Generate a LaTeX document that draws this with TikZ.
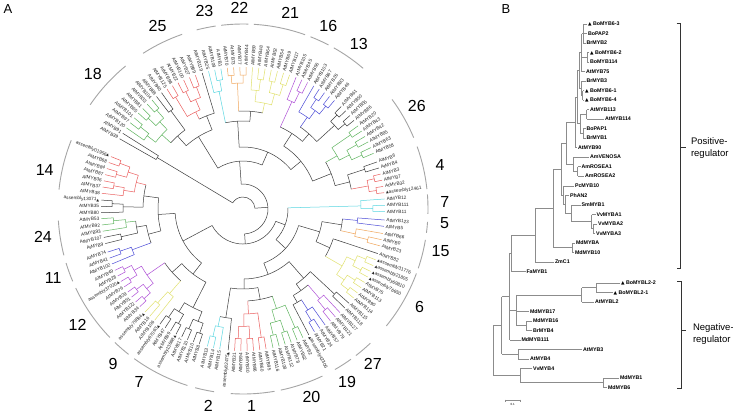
\documentclass[tikz,border=0pt]{standalone}
\usepackage{fontspec}
\setmainfont{Liberation Sans}
\newfontfamily\djv{DejaVu Sans}
\usetikzlibrary{calc}
\definecolor{cR}{RGB}{235,95,95}
\definecolor{cG}{RGB}{95,180,95}
\definecolor{cC}{RGB}{90,215,225}
\definecolor{cO}{RGB}{240,165,90}
\definecolor{cY}{RGB}{225,225,110}
\definecolor{cP}{RGB}{175,80,215}
\definecolor{cB}{RGB}{75,75,215}
\definecolor{cK}{RGB}{60,60,60}
\definecolor{arcg}{RGB}{165,165,165}
\definecolor{brl}{RGB}{140,140,140}
\newcommand\tri{{\djv\fontsize{3.6}{4}\selectfont ▲}}
\newcommand\btri{{\djv\fontsize{4.6}{5}\selectfont ▲}}
\def\lsp{2.55}
\def\rtp{142}
\tikzset{
  tl/.style={line width=0.5pt},
  lbl/.style={font=\fontsize{4.7}{5}\selectfont, text=black!85, inner sep=0.3pt},
  grpnum/.style={font=\fontsize{16}{16}\selectfont, text=black, inner sep=0.5pt},
  bl/.style={brl, line width=0.55pt},
  blbl/.style={font=\fontsize{5.3}{5.5}\selectfont\bfseries, inner sep=0.8pt, anchor=west},
  brk/.style={black!80, line width=0.7pt},
  side/.style={font=\fontsize{9.5}{11.5}\selectfont, align=left, anchor=west}
}
% balanced clade: #1 start angle, #2 n, #3 colour, #4 root radius
\newcommand\clade[4]{%
  \pgfmathtruncatemacro\cn{#2}%
  \ifnum\cn>1
    \pgfmathtruncatemacro\cD{ceil(ln(\cn)/ln(2)-0.0001)}%
    \pgfmathsetmacro\cdr{(\rtp-#4)/\cD}%
    \foreach \lv in {1,...,\cD}{%
      \pgfmathtruncatemacro\cBs{2^\lv}%
      \pgfmathtruncatemacro\cHb{2^(\lv-1)}%
      \pgfmathtruncatemacro\cM{ceil(\cn/\cBs)-1}%
      \pgfmathsetmacro\cRin{\rtp-\lv*\cdr}%
      \pgfmathsetmacro\cRout{\rtp-(\lv-1)*\cdr}%
      \foreach \jv in {0,...,\cM}{%
        \pgfmathtruncatemacro\cLa{\jv*\cBs}%
        \pgfmathtruncatemacro\cLb{min(\jv*\cBs+\cHb,\cn)-1}%
        \pgfmathtruncatemacro\cRa{\jv*\cBs+\cHb}%
        \pgfmathtruncatemacro\cRb{min(\jv*\cBs+\cBs,\cn)-1}%
        \pgfmathsetmacro\cAL{#1+(\cLa+\cLb)/2*\lsp}%
        \ifnum\cRa<\cn
          \pgfmathsetmacro\cAR{#1+(\cRa+\cRb)/2*\lsp}%
          \draw[#3,tl] (\cAL:\cRout pt) -- (\cAL:\cRin pt) arc[start angle=\cAL, end angle=\cAR, radius=\cRin pt] -- (\cAR:\cRout pt);
        \else
          \draw[#3,tl] (\cAL:\cRout pt) -- (\cAL:\cRin pt);
        \fi
      }%
    }%
  \fi
}
% segment of leaves: #1 start, #2 n, #3 colour, #4 root radius, #5 list name/triangle
\newcommand\seg[5]{%
  \clade{#1}{#2}{#3}{#4}%
  \foreach \lnm/\ltr [count=\kv from 0] in {#5}{%
    \pgfmathsetmacro\sgA{#1+\kv*\lsp}%
    \pgfmathtruncatemacro\lft{and(mod(\sgA,360)>90,mod(\sgA,360)<270)}%
    \ifnum\lft=1
      \pgfmathsetmacro\sgR{\sgA+180}%
      \node[lbl,anchor=east,rotate=\sgR] at (\sgA:143.5pt) {\lnm\ifnum\ltr=1 \tri\fi};
    \else
      \node[lbl,anchor=west,rotate=\sgA] at (\sgA:143.5pt) {\ifnum\ltr=1 \tri\fi\lnm};
    \fi
  }%
}
% backbone join: a1 r1 c1 a2 r2 c2 R
\newcommand\bjoin[7]{%
  \draw[#3,tl] (#1:#2pt) -- (#1:#7pt);
  \draw[#6,tl] (#4:#5pt) -- (#4:#7pt);
  \draw[cK,tl] (#1:#7pt) arc[start angle=#1, end angle=#4, radius=#7pt];
}
% group arc: a1 a2 text label-angle label-radius
\newcommand\garc[5]{%
  \draw[arcg, line width=0.9pt] (#1:185pt) arc[start angle=#1, end angle=#2, radius=185pt];
  \node[grpnum] at (#4:#5pt) {#3};
}
% panel B
\newcommand\bleaf[4]{%
  \coordinate (#1) at (#2,-#3);
  \node[blbl] (t#1) at (#1) {#4};
}
\newcommand\bnode[5]{%
  \path let \p1=($(#3)!0.5!(#4)$) in coordinate (#1) at (#2pt,\y1);
  \draw[bl] (#3 -| #1) -- (#4 -| #1);
  \foreach \cc in {#5} \draw[bl] (\cc) -- (\cc -| #1);
}
\begin{document}
\begin{tikzpicture}[x=1pt,y=1pt]
\useasboundingbox (0,0) rectangle (733,-418);
\fill[white] (0,0) rectangle (733,-418);
\node[font=\fontsize{13}{13}\selectfont] (panA) at (8,-9) {A};
\node[font=\fontsize{13}{13}\selectfont] (panB) at (506,-9) {B};

\begin{scope}[shift={(243,-209)}]
\seg{158.35}{7}{cR}{110}{assembly01956/1,AtMYB68/0,AtMYB84/0,AtMYB87/0,AtMYB36/0,AtMYB37/0,AtMYB38/0}
\seg{176.4}{3}{cK}{120}{assembly13071/1,AtMYB35/0,AtMYB80/0}
\seg{183.9}{3}{cG}{118}{AtMYB53/0,AtMYB92/0,AtMYB93/0}
\seg{191.55}{2}{cK}{125}{AtMYB107/0,AtMYB9/0}
\seg{197.65}{3}{cB}{118}{AtMYB74/0,AtMYB41/0,AtMYB102/0}
\seg{205.58}{8}{cP}{108}{AtMYB49/0,AtMYB28/0,assembly37020/1,AtMYB76/0,AtMYB29/0,AtMYB51/0,AtMYB122/0,AtMYB34/0}
\seg{226.45}{3}{cY}{112}{assembly79864/1,AtMYB16/0,AtMYB106/0}
\seg{234.2}{8}{cK}{100}{assembly67063/1,AtMYB47/0,AtMYB99/0,assembly13668/1,AtMYB17/0,AtMYB110/0,AtMYB10/0,AtMYB8/0}
\seg{255.45}{3}{cC}{120}{AtMYB13/0,AtMYB14/0,AtMYB15/0}
\seg{264}{1}{cK}{142}{assembly82475/1}
\seg{266.6}{6}{cR}{105}{AtMYB31/0,AtMYB94/0,AtMYB30/0,AtMYB96/0,AtMYB60/0,AtMYB95/0}
\seg{282.2}{6}{cG}{105}{AtMYB116/0,AtMYB108/0,AtMYB112/0,AtMYB78/0,AtMYB62/0,AtMYB2/0}
\seg{297.6}{1}{cK}{142}{assembly42306/1}
\seg{300.2}{3}{cB}{120}{AtMYB21/0,AtMYB24/0,AtMYB57/0}
\seg{308}{3}{cP}{118}{AtMYB79/0,AtMYB121/0,AtMYB127/0}
\seg{315.8}{2}{cK}{125}{AtMYB118/0,AtMYB115/0}
\seg{321.2}{8}{cY}{105}{AtMYB114/0,AtMYB90/0,AtMYB113/0,AtMYB75/0,assembly76650/1,assembly69810/1,assembly21805/1,assembly31776/1}
\seg{341.7}{1}{cK}{142}{AtMYB82/0}
\seg{344.95}{3}{cO}{115}{AtMYB23/0,AtMYB0/0,AtMYB66/0}
\seg{353}{2}{cB}{115}{AtMYB5/0,AtMYB123/0}
\seg{358.95}{3}{cC}{118}{AtMYB11/0,AtMYB111/0,AtMYB12/0}
\seg{366.6}{4}{cR}{120}{assembly12461/1,AtMYB32/0,AtMYB7/0,AtMYB3/0}
\seg{376.8}{2}{cK}{128}{AtMYB4/0,AtMYB6/0}
\seg{383.1}{6}{cG}{108}{AtMYB58/0,AtMYB63/0,AtMYB85/0,AtMYB42/0,AtMYB43/0,AtMYB20/0}
\seg{398.6}{4}{cK}{115}{AtMYB86/0,AtMYB55/0,AtMYB50/0,AtMYB61/0}
\seg{409.9}{5}{cB}{112}{AtMYB46/0,AtMYB83/0,AtMYB26/0,AtMYB67/0,AtMYB103/0}
\seg{422.95}{3}{cP}{118}{AtMYB56/0,AtMYB45/0,AtMYB105/0}
\seg{430.85}{7}{cY}{108}{AtMYB117/0,AtMYB69/0,AtMYB54/0,AtMYB52/0,AtMYB64/0,AtMYB48/0,AtMYB59/0}
\seg{448.7}{4}{cO}{118}{AtMYB44/0,AtMYB77/0,AtMYB73/0,AtMYB70/0}
\seg{458.95}{3}{cC}{120}{AtMYB1/0,AtMYB109/0,AtMYB25/0}
\seg{466.7}{1}{cK}{142}{AtMYB119/0}
\seg{469.6}{6}{cR}{108}{AtMYB89/0,AtMYB27/0,AtMYB100/0,AtMYB22/0,AtMYB98/0,AtMYB125/0}
\seg{485}{2}{cK}{122}{AtMYB40/0,AtMYB88/0}
\seg{489.85}{7}{cG}{110}{AtMYB104/0,AtMYB33/0,AtMYB81/0,AtMYB65/0,AtMYB101/0,AtMYB97/0,AtMYB120/0}
\seg{507.8}{1}{cK}{142}{AtMYB91/0}
\seg{510.35}{1}{cK}{142}{AtMYB39/0}
% backbone
\bjoin{166.0}{110}{cR}{178.95}{120}{cK}{100}
\bjoin{186.45}{118}{cG}{192.83}{125}{cK}{108}
\bjoin{189.64}{108}{cK}{200.2}{118}{cB}{98}
\bjoin{172.48}{100}{cK}{194.92}{98}{cK}{85}
\bjoin{214.5}{108}{cP}{229.0}{112}{cY}{95}
\bjoin{221.75}{95}{cK}{243.13}{100}{cK}{82}
\bjoin{183.7}{85}{cK}{232.44}{82}{cK}{68}
\bjoin{258.0}{120}{cC}{264.0}{142}{cK}{110}
\bjoin{272.98}{105}{cR}{288.58}{105}{cG}{92}
\bjoin{261.0}{110}{cK}{280.78}{92}{cK}{80}
\bjoin{297.6}{142}{cK}{302.75}{120}{cB}{108}
\bjoin{300.18}{108}{cK}{310.55}{118}{cP}{100}
\bjoin{305.37}{100}{cK}{317.08}{125}{cK}{92}
\bjoin{270.89}{80}{cK}{311.23}{92}{cK}{70}
\bjoin{330.13}{105}{cY}{341.7}{142}{cK}{95}
\bjoin{347.5}{115}{cO}{354.28}{115}{cB}{100}
\bjoin{335.92}{95}{cK}{350.89}{100}{cK}{80}
\bjoin{291.06}{70}{cK}{343.41}{80}{cK}{58}
\bjoin{317.24}{58}{cK}{361.5}{118}{cC}{45}
\bjoin{370.43}{120}{cR}{378.08}{128}{cK}{110}
\bjoin{374.26}{110}{cK}{389.48}{108}{cG}{95}
\bjoin{402.43}{115}{cK}{415.0}{112}{cB}{100}
\bjoin{408.72}{100}{cK}{425.5}{118}{cP}{90}
\bjoin{381.87}{95}{cK}{417.11}{90}{cK}{75}
\bjoin{438.5}{108}{cY}{452.53}{118}{cO}{98}
\bjoin{445.52}{98}{cK}{461.5}{120}{cC}{88}
\bjoin{399.49}{75}{cK}{453.51}{88}{cK}{62}
\bjoin{466.7}{142}{cK}{475.98}{108}{cR}{100}
\bjoin{486.28}{122}{cK}{497.5}{110}{cG}{98}
\bjoin{471.34}{100}{cK}{491.89}{98}{cK}{85}
\bjoin{426.5}{62}{cK}{481.62}{85}{cK}{48}
\bjoin{208.07}{68}{cK}{339.37}{45}{cK}{35}
\bjoin{273.72}{35}{cK}{454.06}{48}{cK}{25}
\bjoin{507.8}{142}{cK}{510.35}{142}{cK}{100}
\bjoin{363.89}{25}{cK}{509.08}{100}{cK}{12}
% group arcs
\garc{158.2}{174.0}{14}{169}{202}
\garc{183.6}{194.5}{24}{188}{202}
\garc{197.0}{203.0}{11}{200}{202}
\garc{205.3}{224.0}{12}{215}{202}
\garc{226.2}{231.8}{9}{230}{202}
\garc{234.0}{252.5}{7}{239}{202}
\garc{255.0}{261.0}{2}{260}{200}
\garc{266.2}{279.8}{1}{272.5}{197}
\garc{281.8}{295.4}{20}{290}{200}
\garc{299.8}{305.7}{19}{301}{202}
\garc{307.6}{313.5}{27}{310}{202}
\garc{320.8}{339.6}{6}{331}{202}
\garc{341.3}{350.4}{15}{348}{202}
\garc{352.6}{356.0}{5}{356}{202}
\garc{358.5}{364.5}{7}{362}{202}
\garc{366.2}{379.7}{4}{372.6}{202}
\garc{382.7}{396.3}{26}{390.6}{202}
\garc{409.5}{420.6}{13}{415}{202}
\garc{422.5}{428.6}{16}{425}{202}
\garc{430.4}{446.6}{21}{436.5}{202}
\garc{448.3}{456.8}{22}{451}{201}
\garc{458.5}{464.5}{23}{461}{202}
\garc{469.2}{482.7}{25}{475}{202}
\garc{489.4}{505.7}{18}{498}{202}
\end{scope}

% ---------------- panel B ----------------
\bleaf{L1}{587}{24}{\btri\ BoMYB6-3}
\bleaf{L2}{587}{33.5}{BoPAP2}
\bleaf{L3}{585.5}{43}{BrMYB2}
\bleaf{L4}{589}{52.5}{\btri\ BoMYB6-2}
\bleaf{L5}{589}{62}{BoMYB114}
\bleaf{L6}{585}{71.5}{AtMYB75}
\bleaf{L7}{585.5}{81}{BrMYB3}
\bleaf{L8}{584}{90.5}{\btri\ BoMYB6-1}
\bleaf{L9}{584}{100}{\btri\ BoMYB6-4}
\bleaf{L10}{589}{109.5}{AtMYB113}
\bleaf{L11}{604}{119}{AtMYB114}
\bleaf{L12}{585.5}{128.5}{BoPAP1}
\bleaf{L13}{585.5}{138}{BrMYB1}
\bleaf{L14}{577}{147.5}{AtMYB90}
\bleaf{L15}{589}{157}{AmVENOSA}
\bleaf{L16}{580.5}{166.5}{AmROSEA1}
\bleaf{L17}{584}{176}{AmROSEA2}
\bleaf{L18}{574}{186}{PcMYB10}
\bleaf{L19}{569}{195.5}{PhAN2}
\bleaf{L20}{580.5}{205}{SmMYB1}
\bleaf{L21}{595.5}{214.5}{VvMYBA1}
\bleaf{L22}{597}{224}{VvMYBA2}
\bleaf{L23}{595}{233.5}{VvMYBA3}
\bleaf{L24}{575}{243}{MdMYBA}
\bleaf{L25}{574}{252.5}{MdMYB10}
\bleaf{L26}{554}{262}{ZmC1}
\bleaf{L27}{525.5}{271.5}{FaMYB1}
\bleaf{L28}{620}{283}{\btri\ BoMYBL2-2}
\bleaf{L29}{612.5}{292.5}{\btri\ BoMYBL2-1}
\bleaf{L30}{594}{302}{AtMYBL2}
\bleaf{L31}{529}{311.5}{MdMYB17}
\bleaf{L32}{532}{321}{MdMYB16}
\bleaf{L33}{532}{330.5}{BrMYB4}
\bleaf{L34}{520.5}{340}{MdMYB111}
\bleaf{L35}{582}{349.5}{AtMYB3}
\bleaf{L36}{529}{359}{AtMYB4}
\bleaf{L37}{532}{368.5}{VvMYB4}
\bleaf{L38}{619}{378}{MdMYB1}
\bleaf{L39}{607}{387.5}{MdMYB6}

\bnode{b1}{583.3}{L1}{L3}{L1,L2,L3}
\bnode{b2}{587.2}{L4}{L5}{L4,L5}
\bnode{b3}{581.5}{b1}{L6}{b1,b2,L6}
\bnode{b4}{582.5}{L8}{L9}{L8,L9}
\bnode{b5}{580.8}{L7}{b4}{L7,b4}
\bnode{b6}{586.5}{L10}{L11}{L10,L11}
\bnode{b7}{582.8}{L12}{L13}{L12,L13}
\bnode{b8}{580}{b6}{b7}{b6,b7}
\bnode{b9}{579}{b3}{b5}{b3,b5}
\bnode{b10}{577.6}{b9}{b8}{b9,b8}
\bnode{b11}{575.5}{b10}{L14}{b10,L14}
\bnode{b12}{577.5}{L16}{L17}{L16,L17}
\bnode{b13}{573.3}{L15}{b12}{L15,b12}
\bnode{b14}{566}{b11}{b13}{b11,b13}
\bnode{b15}{593.3}{L22}{L23}{L22,L23}
\bnode{b16}{591.5}{L21}{b15}{L21,b15}
\bnode{b17}{571.5}{L20}{b16}{L20,b16}
\bnode{b18}{565}{L19}{b17}{L19,b17}
\bnode{b19}{563}{L18}{b18}{L18,b18}
\bnode{b20}{561}{b14}{b19}{b14,b19}
\bnode{b21}{572.5}{L24}{L25}{L24,L25}
\bnode{b22}{553.3}{b20}{b21}{b20,b21}
\bnode{b23}{535}{b22}{L26}{b22,L26}
\bnode{b24}{511.7}{b23}{L27}{b23,L27}
\bnode{b25}{596.7}{L28}{L29}{L28,L29}
\bnode{b26}{581.7}{b25}{L30}{b25,L30}
\bnode{b27}{526.7}{L32}{L33}{L32,L33}
\bnode{b28}{516.7}{b26}{b27}{b26,L31,b27}
\bnode{b29}{509.5}{b24}{L34}{b24,b28,L34}
\bnode{b30}{518.3}{L35}{L36}{L35,L36}
\bnode{b31}{501.7}{b29}{b30}{b29,b30}
\bnode{b32}{603}{L38}{L39}{L38,L39}
\bnode{b33}{520}{L37}{b32}{L37,b32}
\bnode{b34}{493.3}{b31}{b33}{b31,b33}

% scale bar
\coordinate (sb1) at (505,-400.7);
\coordinate (sb2) at (520.7,-400.7);
\draw[bl] (sb1) -- (sb2);
\draw[bl] ($(sb1)+(0,1.2)$) -- ($(sb1)+(0,-1.2)$);
\draw[bl] ($(sb2)+(0,1.2)$) -- ($(sb2)+(0,-1.2)$);
\node[font=\fontsize{3}{3}\selectfont, inner sep=0] (sbl) at (512.8,-404.5) {0.1};

% brackets
\coordinate (p1) at (676.5,-23.5);
\coordinate (p2) at (680.7,-23.5);
\coordinate (p3) at (680.7,-268.3);
\coordinate (p4) at (676.5,-268.3);
\coordinate (pm) at (680.7,-147.5);
\coordinate (pt) at (685.5,-147.5);
\draw[brk] (p1) -- (p2) -- (p3) -- (p4);
\draw[brk] (pm) -- (pt);
\node[side] (pos) at (687.5,-147.8) {Positive-\\regulator};
\coordinate (n1) at (677,-281.7);
\coordinate (n2) at (681.5,-281.7);
\coordinate (n3) at (681.5,-388.3);
\coordinate (n4) at (677,-388.3);
\coordinate (nm) at (681.5,-330.5);
\coordinate (nt) at (686.3,-330.5);
\draw[brk] (n1) -- (n2) -- (n3) -- (n4);
\draw[brk] (nm) -- (nt);
\node[side] (neg) at (689.5,-334) {Negative-\\regulator};
\end{tikzpicture}
\end{document}
